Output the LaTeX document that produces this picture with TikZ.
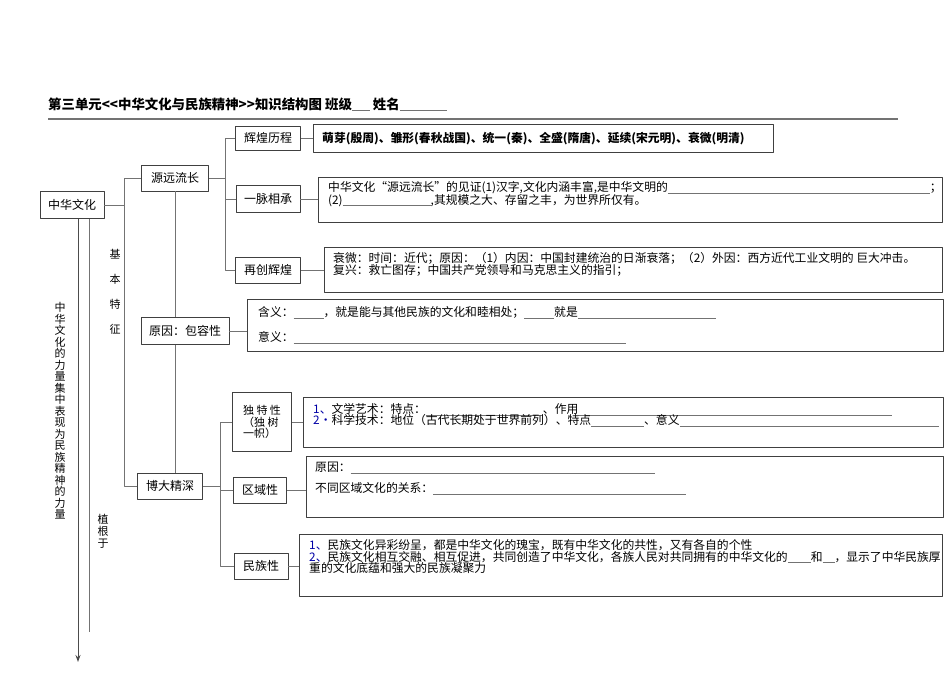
\documentclass[tikz,border=0pt]{standalone}
\usepackage{fontspec}
\usetikzlibrary{arrows.meta}
\setmainfont{Noto Sans CJK SC}
\newcommand\fillin[1]{\textcolor{black!55}{\rule[-2pt]{#1pt}{0.6pt}}}
\newcommand\num[1]{\textcolor{blue!65!black}{#1}}
\begin{document}
\begin{tikzpicture}[x=1pt,y=-1pt,line join=round,>={Stealth[length=7pt,width=5pt]}]
	\tikzset{box/.style={draw=black!75,line width=0.9pt,inner sep=0pt,font=\fontsize{12}{13}\selectfont},
		panel/.style={draw=black!75,line width=0.9pt,inner sep=0pt,anchor=north west},
		words/.style={anchor=base west,inner sep=0pt,align=left,font={\fontsize{11.8}{12.5}\selectfont\lineskiplimit=-20pt}},
		link/.style={draw=black!55,line width=0.9pt},
		vtext/.style={inner sep=0pt,align=center,font={\fontsize{11}{11.5}\selectfont\lineskiplimit=-20pt}}}
	\useasboundingbox (0,0) rectangle (950,672);
	% title
	\node[anchor=base west,inner sep=0pt,font=\bfseries\fontsize{13.4}{14}\selectfont] (title) at (48,109) {第三单元<\kern0pt<中华文化与民族精神>\kern0pt>知识结构图 班级\fillin{18} 姓名\fillin{47}};
	\draw[black!55,line width=1.8pt] (48,119)--(898,119);
	% boxes
	\node[box,minimum width=64pt,minimum height=27pt] (culture) at (72,205) {中华文化};
	\node[box,minimum width=67pt,minimum height=26pt] (origin) at (175,178) {源远流长};
	\node[box,minimum width=65pt,minimum height=24pt] (glory) at (268,138) {辉煌历程};
	\node[box,minimum width=64pt,minimum height=27pt] (lineage) at (268,199) {一脉相承};
	\node[box,minimum width=65pt,minimum height=26pt] (revive) at (268,270) {再创辉煌};
	\node[box,minimum width=88pt,minimum height=27pt] (cause) at (185,331) {原因：包容性};
	\node[box,minimum width=65pt,minimum height=26pt] (depth) at (170,486) {博大精深};
	\node[box,minimum width=59pt,minimum height=59pt,align=left,font={\fontsize{11}{11.5}\selectfont\lineskiplimit=-20pt}] (unique) at (262,422) {独 特 性\\（独 树\\一帜）};
	\node[box,minimum width=53pt,minimum height=26pt] (region) at (260,490) {区域性};
	\node[box,minimum width=54pt,minimum height=26pt] (nation) at (261,566) {民族性};
	% panels
	\node[panel,minimum width=460pt,minimum height=28pt] (p1) at (313,124) {};
	\node[panel,minimum width=624pt,minimum height=45pt] (p2) at (318,177) {};
	\node[panel,minimum width=618pt,minimum height=45pt] (p3) at (324,247) {};
	\node[panel,minimum width=696pt,minimum height=52pt] (p4) at (247,299) {};
	\node[panel,minimum width=640pt,minimum height=50pt] (p5) at (303,397) {};
	\node[panel,minimum width=637pt,minimum height=61pt] (p6) at (306,456) {};
	\node[panel,minimum width=643pt,minimum height=62pt] (p7) at (299,534) {};
	% texts (base = last line)
	\node[words,font=\bfseries\fontsize{11.8}{12.5}\selectfont] (w1) at (322,142.5) {萌芽(殷周)、雏形(春秋战国)、统一(秦)、全盛(隋唐)、延续(宋元明)、衰微(明清)};
	\node[words] (w2) at (328,204) {中华文化“源远流长”的见证(1)汉字,文化内涵丰富,是中华文明的\fillin{262}；\\(2)\fillin{88},其规模之大、存留之丰，为世界所仅有。};
	\node[words,font={\fontsize{11.8}{12}\selectfont\lineskiplimit=-20pt}] (w3) at (333,274.5) {衰微：时间：近代；原因：（1）内因：中国封建统治的日渐衰落；（2）外因：西方近代工业文明的 巨大冲击。\\复兴：救亡图存；中国共产党领导和马克思主义的指引；};
	\node[words,font={\fontsize{11.8}{25}\selectfont}] (w4) at (258,341.5) {含义：\fillin{30}，就是能与其他民族的文化和睦相处；\fillin{30}就是\fillin{138}\\意义：\fillin{332}};
	\node[words,font={\fontsize{11.8}{11}\selectfont\lineskiplimit=-20pt}] (w5) at (313,424.5) {\num{1、}文学艺术：特点：\fillin{117}、作用\fillin{314}\\\num{2•}科学技术：地位（古代长期处于世界前列）、特点\fillin{53}、意义\fillin{259}};
	\node[words,font={\fontsize{11.8}{21}\selectfont}] (w6) at (315,492.5) {原因：\fillin{304}\\不同区域文化的关系：\fillin{253}};
	\node[words,font={\fontsize{11.8}{11.5}\selectfont\lineskiplimit=-20pt}] (w7) at (309,572.5) {\num{1、}民族文化异彩纷呈，都是中华文化的瑰宝，既有中华文化的共性，又有各自的个性\\\num{2、}民族文化相互交融、相互促进，共同创造了中华文化，各族人民对共同拥有的中华文化的\fillin{23}和\fillin{12}，显示了中华民族厚\\重的文化底蕴和强大的民族凝聚力};
	% vertical labels
	\node[vtext] (power) at (60,411) {中\\华\\文\\化\\的\\力\\量\\集\\中\\表\\现\\为\\民\\族\\精\\神\\的\\力\\量};
	\node[vtext,font={\fontsize{11}{25}\selectfont}] (traits) at (115,292) {基\\本\\特\\征};
	\node[vtext,font={\fontsize{11}{12}\selectfont\lineskiplimit=-20pt}] (rooted) at (103,531) {植\\根\\于};
	% connectors
	\coordinate (trunk) at (124,0);
	\coordinate (fork1) at (225,0);
	\coordinate (fork2) at (220,0);
	\coordinate (arrowtip) at (78,662);
	\coordinate (rootend) at (89,632);
	\draw[link,->,black!70] (culture.south -| arrowtip)--(arrowtip);
	\draw[link] (culture.south -| rootend)--(rootend);
	\draw[link] (culture.east)--(culture.east -| trunk);
	\draw[link] (origin.west)--(origin.west -| trunk)--(depth.west -| trunk)--(depth.west);
	\draw[link] (origin.south)--(origin.south |- cause.north);
	\draw[link] (cause.south -| origin.south)--(depth.north -| origin.south);
	\draw[link] (origin.east)--(origin.east -| fork1);
	\draw[link] (glory.west)--(glory.west -| fork1)--(revive.west -| fork1)--(revive.west);
	\draw[link] (lineage.west)--(lineage.west -| fork1);
	\draw[link] (depth.east)--(depth.east -| fork2);
	\draw[link] (unique.west)--(unique.west -| fork2)--(nation.west -| fork2)--(nation.west);
	\draw[link] (region.west)--(region.west -| fork2);
	\draw[link] (glory.east)--(glory.east -| p1.west);
	\draw[link] (lineage.east)--(lineage.east -| p2.west);
	\draw[link] (revive.east)--(revive.east -| p3.west);
	\draw[link] (cause.east)--(cause.east -| p4.west);
	\draw[link] (unique.east)--(unique.east -| p5.west);
	\draw[link] (region.east)--(region.east -| p6.west);
	\draw[link] (nation.east)--(nation.east -| p7.west);
\end{tikzpicture}
\end{document}
